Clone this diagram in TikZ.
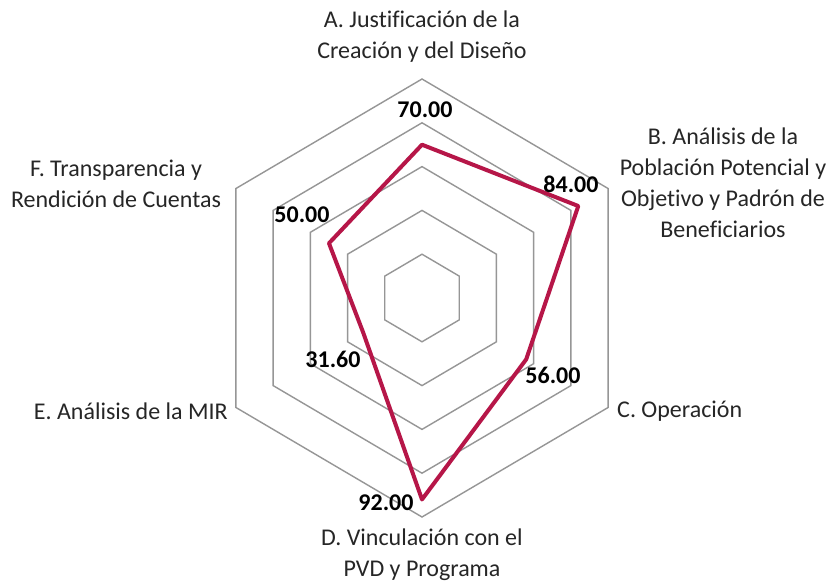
\documentclass[tikz,border=0pt]{standalone}
\usepackage{fontspec}
\setmainfont{Carlito}[Ligatures={NoCommon}]
\definecolor{gridgray}{RGB}{150,150,150}
\definecolor{serie}{RGB}{182,22,72}
\tikzset{
  gridline/.style={draw=gridgray, line width=1.4pt, line join=miter},
  serieline/.style={draw=serie, line width=4pt, line join=round},
  axislabel/.style={inner sep=0pt, align=center, font=\fontsize{24}{31}\selectfont, text=black!85},
  vallabel/.style={inner sep=0pt, font=\fontsize{24}{29}\selectfont\bfseries, text=black}
}
\newcommand{\hexc}[3]{\coordinate (#1) at ({422+0.981*2.19*(#3)*cos(#2)},{298-2.19*(#3)*sin(#2)});}
\begin{document}
\begin{tikzpicture}[x=1pt,y=-1pt]
\useasboundingbox (0,0) rectangle (835,583);
\fill[white] (0,0) rectangle (835,583);
% grid rings
\foreach \p in {20,40,60,80,100}{
  \hexc{r\p a}{90}{\p}
  \hexc{r\p b}{30}{\p}
  \hexc{r\p c}{-30}{\p}
  \hexc{r\p d}{-90}{\p}
  \hexc{r\p e}{-150}{\p}
  \hexc{r\p f}{150}{\p}
  \draw[gridline] (r\p a) -- (r\p b) -- (r\p c) -- (r\p d) -- (r\p e) -- (r\p f) -- cycle;
}
% data points
\hexc{pA}{90}{70}
\hexc{pB}{30}{84}
\hexc{pC}{-30}{56}
\hexc{pD}{-90}{92}
\hexc{pE}{-150}{31.6}
\hexc{pF}{150}{50}
\draw[serieline] (pA) -- (pB) -- (pC) -- (pD) -- (pE) -- (pF) -- cycle;
% value labels
\node[vallabel] (vA) at (425,110) {70.00};
\node[vallabel] (vB) at (571,184) {84.00};
\node[vallabel] (vC) at (553,375) {56.00};
\node[vallabel] (vD) at (386,503) {92.00};
\node[vallabel] (vE) at (333,359) {31.60};
\node[vallabel] (vF) at (302,215) {50.00};
% axis labels
\node[axislabel] (lA) at (422,37) {A. Justificación de la\\Creación y del Diseño};
\node[axislabel] (lB) at (723,183) {B. Análisis de la\\Población Potencial y\\Objetivo y Padrón de\\Beneficiarios};
\node[axislabel, anchor=west] (lC) at (617,411) {C. Operación};
\node[axislabel] (lD) at (422,555) {D. Vinculación con el\\PVD y Programa};
\node[axislabel, anchor=east] (lE) at (228,411) {E. Análisis de la MIR};
\node[axislabel] (lF) at (116,184) {F. Transparencia y\\Rendición de Cuentas};
\end{tikzpicture}
\end{document}
